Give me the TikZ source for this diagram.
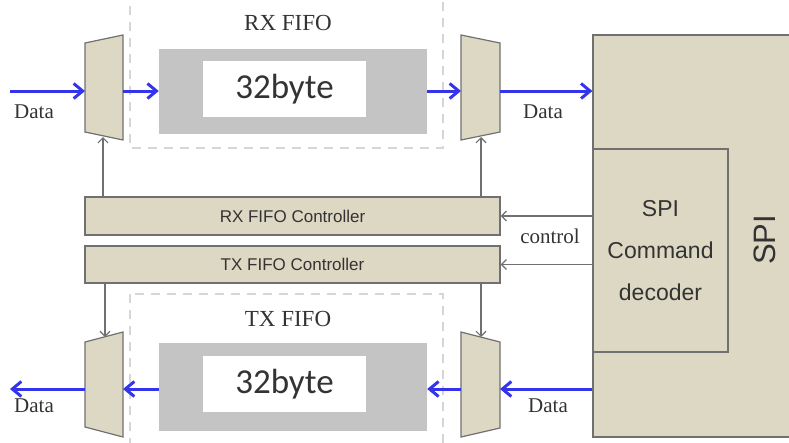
\documentclass[tikz,border=0pt]{standalone}
\usepackage{fontspec}
\setmainfont{Liberation Serif}
\newfontfamily\arialfont{Liberation Sans}
\newfontfamily\calfont{Carlito}
\usetikzlibrary{arrows.meta}

\definecolor{muxfill}{HTML}{DDD8C4}
\definecolor{fifogray}{HTML}{C4C4C4}
\definecolor{datablue}{HTML}{3434EA}
\definecolor{edgegray}{HTML}{707070}
\definecolor{dashgray}{HTML}{D6D6D6}
\definecolor{textgray}{HTML}{333333}

\tikzset{
  mux/.style={draw=edgegray, fill=muxfill, line width=1.2pt},
  ctrlbox/.style={draw=edgegray, fill=muxfill, line width=1.2pt, inner sep=0pt,
    minimum width=415pt, minimum height=37pt, text=textgray,
    font=\arialfont\fontsize{17}{20}\selectfont},
  fifobox/.style={fill=fifogray, inner sep=0pt, minimum width=268pt},
  bytebox/.style={fill=white, inner sep=0pt, minimum width=163pt, minimum height=56pt,
    text=textgray, font=\calfont\fontsize{35}{40}\selectfont},
  dashbox/.style={draw=dashgray, line width=2pt, dash pattern=on 9pt off 7pt},
  datarrow/.style={draw=datablue, line width=3pt, -{Straight Barb[length=9pt,width=15pt]}},
  ctlarrow/.style={draw=edgegray, line width=1.2pt, -{Straight Barb[length=5pt,width=10pt]}},
  lbl/.style={text=textgray, font=\fontsize{21}{24}\selectfont},
  title/.style={text=textgray, font=\fontsize{23}{26}\selectfont}
}

\begin{document}
\begin{tikzpicture}[x=1pt,y=-1pt]
  \useasboundingbox (0,0) rectangle (789,442);
  \clip (0,0) rectangle (789,442);

  % FIFO frames
  \draw[dashbox] (130,-10) rectangle (443,148);
  \draw[dashbox] (130,294) rectangle (443,460);
  \node[title] (rxtitle) at (288,23) {RX FIFO};
  \node[title] (txtitle) at (288,319) {TX FIFO};

  \node[fifobox, minimum height=85pt] (rxfifo) at (293,91.5) {};
  \node[bytebox] (rxbyte) at (284.5,89) {32byte};
  \node[fifobox, minimum height=88pt] (txfifo) at (293,387) {};
  \node[bytebox] (txbyte) at (284.5,384) {32byte};

  % Muxes
  \draw[mux] (85,43) -- (123,35) -- (123,140) -- (85,132) -- cycle;
  \draw[mux] (461,35) -- (500,43) -- (500,132) -- (461,140) -- cycle;
  \draw[mux] (85,342) -- (123,332) -- (123,437) -- (85,427) -- cycle;
  \draw[mux] (461,332) -- (500,342) -- (500,428) -- (461,437) -- cycle;
  \coordinate (rxa-w) at (85,91);
  \coordinate (rxa-e) at (123,91);
  \coordinate (rxa-s) at (103,137);
  \coordinate (rxb-w) at (461,91);
  \coordinate (rxb-e) at (500,91);
  \coordinate (rxb-s) at (481,137);
  \coordinate (txa-w) at (85,389);
  \coordinate (txa-e) at (123,389);
  \coordinate (txa-n) at (105,337);
  \coordinate (txb-w) at (461,389);
  \coordinate (txb-e) at (500,389);
  \coordinate (txb-n) at (481,337);
  \coordinate (rxin) at (10,91);
  \coordinate (txout) at (10,389);

  % Controllers
  \node[ctrlbox, minimum height=38pt] (rxctrl) at (292.5,216) {RX FIFO Controller};
  \node[ctrlbox] (txctrl) at (292.5,264.5) {TX FIFO Controller};

  % SPI side
  \node[draw=edgegray, fill=muxfill, line width=1.2pt, minimum width=210pt,
    minimum height=402pt, inner sep=0pt] (spi) at (698,236) {};
  \node[draw=edgegray, fill=muxfill, line width=1.2pt, minimum width=135pt,
    minimum height=203pt, inner sep=0pt, align=center, text=textgray,
    font=\arialfont\fontsize{23}{42}\selectfont] (dec) at (660.5,250.5)
    {SPI\\Command\\decoder};
  \node[rotate=90, text=textgray, font=\arialfont\fontsize{31}{34}\selectfont]
    (spilbl) at (765,240) {SPI};

  % Data paths
  \draw[datarrow] (rxin) -- (rxa-w);
  \draw[datarrow] (rxa-e) -- (rxfifo.west |- rxa-e);
  \draw[datarrow] (rxfifo.east |- rxb-w) -- (rxb-w);
  \draw[datarrow] (rxb-e) -- (rxb-e -| spi.west);
  \draw[datarrow] (txb-e -| spi.west) -- (txb-e);
  \draw[datarrow] (txb-w) -- (txfifo.east |- txb-w);
  \draw[datarrow] (txfifo.west |- txa-e) -- (txa-e);
  \draw[datarrow] (txa-w) -- (txout);
  \node[lbl] (d1) at (34,112) {Data};
  \node[lbl] (d2) at (543,112) {Data};
  \node[lbl] (d3) at (34,406) {Data};
  \node[lbl] (d4) at (548,406) {Data};

  % Control paths
  \draw[ctlarrow] (rxctrl.east -| dec.west) -- (rxctrl.east);
  \draw[ctlarrow] (txctrl.east -| dec.west) -- (txctrl.east);
  \node[lbl] (ctl) at (550,236) {control};
  \draw[ctlarrow] (rxctrl.north -| rxa-s) -- (rxa-s);
  \draw[ctlarrow] (rxctrl.north -| rxb-s) -- (rxb-s);
  \draw[ctlarrow] (txctrl.south -| txa-n) -- (txa-n);
  \draw[ctlarrow] (txctrl.south -| txb-n) -- (txb-n);

\end{tikzpicture}
\end{document}
